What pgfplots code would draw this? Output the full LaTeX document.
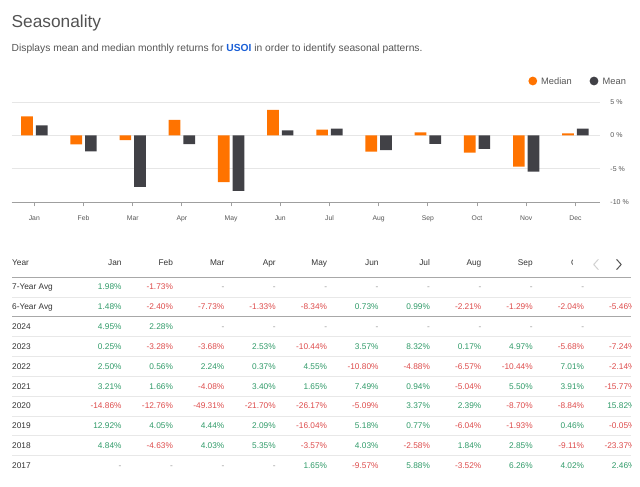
\documentclass[border=0pt]{standalone}
\usepackage{pgfplots}
\pgfplotsset{compat=1.18}
\usepackage{fontspec}
\setmainfont{Liberation Sans}
\definecolor{medc}{HTML}{FF7300}
\definecolor{meanc}{HTML}{414146}
\definecolor{pos}{HTML}{2F9A68}
\definecolor{neg}{HTML}{DD4B4B}
\definecolor{txt}{HTML}{333333}
\definecolor{sub}{HTML}{555555}
\definecolor{blu}{HTML}{1A5FD6}
\definecolor{gridc}{HTML}{E6E6E6}
\definecolor{rowline}{HTML}{E8E8E8}
\definecolor{hdrline}{HTML}{A8A8A8}
\newcommand\tabfont{\fontsize{8.3}{10}\selectfont}
\def\dashmark{-}
% #1 row centre (px from top), #2 label, #3 comma list of values
\newcommand\tabrow[3]{%
  \node[anchor=base west, inner sep=0pt, text=txt, font=\tabfont] at (12,{484-#1}) {#2};
  \foreach \v [count=\c from 0] in {#3} {%
    \edef\cur{\v}%
    \ifx\cur\dashmark
      \node[anchor=base east, inner sep=0pt, text=gray!80, font=\tabfont] at ({121.7+51.4*\c},{484-#1}) {-};
    \else
      \pgfmathtruncatemacro\isneg{\v<0}%
      \ifnum\isneg=1 \def\col{neg}\else\def\col{pos}\fi
      \node[anchor=base east, inner sep=0pt, text=\col, font=\tabfont] at ({121.7+51.4*\c},{484-#1}) {\v\%};
    \fi
  }%
}
\begin{document}
\begin{tikzpicture}[x=1pt,y=1pt]
\useasboundingbox (0,0) rectangle (640,487);
% title and subtitle
\node[anchor=base west, inner sep=0pt, text=txt!85, font=\fontsize{17.3}{20}\selectfont] at (11.5,459) {Seasonality};
\node[anchor=base west, inner sep=0pt, text=sub, font=\fontsize{10.25}{12}\selectfont] at (11.5,435.5) {Displays mean and median monthly returns for \textcolor{blu}{\textbf{USOI}} in order to identify seasonal patterns.};
% legend
\fill[medc] (532.8,406) circle (4.4);
\node[anchor=base west, inner sep=0pt, text=sub, font=\fontsize{9.3}{11}\selectfont] at (541,402.6) {Median};
\fill[meanc] (594,406) circle (4.4);
\node[anchor=base west, inner sep=0pt, text=sub, font=\fontsize{9.3}{11}\selectfont] at (602.5,402.6) {Mean};
% chart
\begin{axis}[
  at={(11.7pt,285pt)}, anchor=south west,
  scale only axis, width=588.3pt, height=100pt,
  xmin=-0.46, xmax=11.5, ymin=-10, ymax=5,
  ybar=3pt, bar width=11.7pt,
  axis x line=bottom, axis y line=right,
  x axis line style={-, draw=gray!75, line width=0.9pt},
  y axis line style={draw=none},
  xtick={0,...,11},
  xticklabels={Jan,Feb,Mar,Apr,May,Jun,Jul,Aug,Sep,Oct,Nov,Dec},
  xtick align=outside, major tick length=4.5pt,
  xtick style={draw=gray!75, line width=0.8pt},
  xticklabel style={font=\fontsize{6.8}{8}\selectfont, text=sub, inner sep=0pt, yshift=-9pt},
  ytick={-10,-5,0,5},
  ytick style={draw=none},
  ymajorgrids, grid style={draw=gridc, line width=0.9pt},
  /pgf/number format/assume math mode=true,
  yticklabel={\pgfmathprintnumber{\tick} \%},
  yticklabel style={font=\fontsize{7}{8}\selectfont, text=sub, anchor=west, inner sep=0pt, xshift=8pt},
  clip=false,
]
\addplot[fill=medc, draw=none] coordinates {(0,2.855) (1,-1.36) (2,-0.72) (3,2.31) (4,-7.005) (5,3.80) (6,0.855) (7,-2.435) (8,0.46) (9,-2.61) (10,-4.69) (11,0.30)};
\addplot[fill=meanc, draw=none] coordinates {(0,1.48) (1,-2.40) (2,-7.73) (3,-1.33) (4,-8.34) (5,0.73) (6,0.99) (7,-2.21) (8,-1.29) (9,-2.04) (10,-5.46) (11,1.00)};
\end{axis}
% table
\begin{scope}
\clip (0,0) rectangle (631,487);
% header
\node[anchor=base west, inner sep=0pt, text=txt, font=\tabfont] at (12,{484-263}) {Year};
\foreach \m [count=\c from 0] in {Jan,Feb,Mar,Apr,May,Jun,Jul,Aug,Sep,Oct,Nov} {
  \node[anchor=base east, inner sep=0pt, text=txt, font=\tabfont] at ({121.7+51.4*\c},{484-263}) {\m};
}
% lines
\draw[hdrline, line width=1.2pt] (12,{487-277.3}) -- (631,{487-277.3});
\foreach \yy in {297.3,336.7,356.7,376.5,396.5,416.2,436,456} {
  \draw[rowline, line width=1pt] (12,{487-\yy}) -- (631,{487-\yy});
}
\draw[hdrline, line width=1.2pt] (12,{487-316.7}) -- (631,{487-316.7});
% rows
\tabrow{287}{7-Year Avg}{1.98,-1.73,-,-,-,-,-,-,-,-,-}
\tabrow{306.7}{6-Year Avg}{1.48,-2.40,-7.73,-1.33,-8.34,0.73,0.99,-2.21,-1.29,-2.04,-5.46}
\tabrow{326.7}{2024}{4.95,2.28,-,-,-,-,-,-,-,-,-}
\tabrow{346.3}{2023}{0.25,-3.28,-3.68,2.53,-10.44,3.57,8.32,0.17,4.97,-5.68,-7.24}
\tabrow{366.5}{2022}{2.50,0.56,2.24,0.37,4.55,-10.80,-4.88,-6.57,-10.44,7.01,-2.14}
\tabrow{386.2}{2021}{3.21,1.66,-4.08,3.40,1.65,7.49,0.94,-5.04,5.50,3.91,-15.77}
\tabrow{405.9}{2020}{-14.86,-12.76,-49.31,-21.70,-26.17,-5.09,3.37,2.39,-8.70,-8.84,15.82}
\tabrow{425.8}{2019}{12.92,4.05,4.44,2.09,-16.04,5.18,0.77,-6.04,-1.93,0.46,-0.05}
\tabrow{445.8}{2018}{4.84,-4.63,4.03,5.35,-3.57,4.03,-2.58,1.84,2.85,-9.11,-23.37}
\tabrow{466}{2017}{-,-,-,-,1.65,-9.57,5.88,-3.52,6.26,4.02,2.46}
\end{scope}
% scroll arrows overlay
\fill[white] (573,{487-252}) rectangle (640,{487-275});
\draw[gray!35, line width=1pt, line cap=round, line join=round] (598.2,{487-259.5}) -- (593.7,{487-264.5}) -- (598.2,{487-269.5});
\draw[sub, line width=1pt, line cap=round, line join=round] (616.7,{487-259.5}) -- (621.2,{487-264.5}) -- (616.7,{487-269.5});
\end{tikzpicture}
\end{document}
